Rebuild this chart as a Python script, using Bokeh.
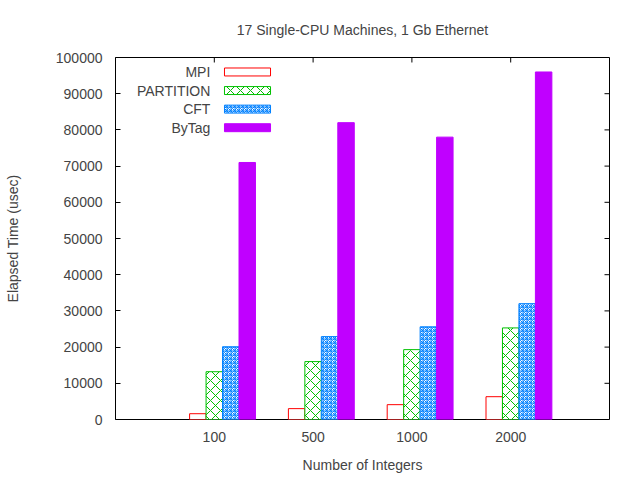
from bokeh.plotting import figure
from bokeh.models import FixedTicker, Label, BoxAnnotation, Range1d, NumeralTickFormatter
from bokeh.embed import file_html
from bokeh.resources import INLINE

title_text = "17 Single-CPU Machines, 1 Gb Ethernet"
categories = ["100", "500", "1000", "2000"]
series_names = ["MPI", "PARTITION", "CFT", "ByTag"]
mpi = [1600, 3000, 4100, 6300]
partition = [13200, 16000, 19300, 25300]
cft = [20100, 22900, 25600, 32000]
bytag = [71000, 82000, 78000, 96000]
y_ticks = [0, 10000, 20000, 30000, 40000, 50000, 60000, 70000, 80000, 90000, 100000]

FONT = "Liberation Sans"
styles = [
    dict(fill_color="white", line_color="#ff0000", hatch_pattern=None, hatch_color=None, scale=None),
    dict(fill_color="white", line_color="#00c000", hatch_pattern="diagonal_cross", hatch_color="#00c000", scale=10),
    dict(fill_color="white", line_color="#0080ff", hatch_pattern="criss_cross", hatch_color="#0080ff", scale=4),
    dict(fill_color="#c000ff", line_color="#c000ff", hatch_pattern=None, hatch_color=None, scale=None),
]

X0, X1 = -1, 4
Y0, Y1 = 0, 100000
p = figure(width=640, height=480, output_backend="svg", toolbar_location=None,
           x_range=Range1d(X0, X1), y_range=Range1d(Y0, Y1),
           min_border_left=115, min_border_right=31, min_border_top=57, min_border_bottom=61)
p.title.text = title_text
p.title.align = "center"
p.title.vertical_align = "top"
p.title.text_font = FONT
p.title.text_font_size = "14px"
p.title.text_font_style = "normal"
p.title.offset = 0
p.title.standoff = 36

p.grid.visible = False
p.outline_line_color = "black"
p.outline_line_width = 1
p.background_fill_color = "white"
p.border_fill_color = "white"

width = 1.0 / 6
all_series = [mpi, partition, cft, bytag]
for j, vals in enumerate(all_series):
    xs = [i + (j - 1) * width for i in range(len(categories))]
    st = styles[j]
    kw = dict(x=xs, top=vals, bottom=0, width=width,
              fill_color=st["fill_color"], line_color=st["line_color"], line_width=1)
    if st["hatch_pattern"]:
        kw.update(hatch_pattern=st["hatch_pattern"], hatch_color=st["hatch_color"],
                  hatch_scale=st["scale"], hatch_weight=1)
    p.vbar(**kw)

# axes
xa = p.xaxis[0]
xa.ticker = FixedTicker(ticks=list(range(len(categories))))
xa.major_label_overrides = {i: c for i, c in enumerate(categories)}
xa.major_tick_in = 0
xa.major_tick_out = 0
xa.minor_tick_line_color = None
xa.axis_line_color = None
xa.axis_label = "Number of Integers"
xa.axis_label_text_font = FONT
xa.axis_label_text_font_size = "14px"
xa.axis_label_text_font_style = "normal"
xa.major_label_text_font = FONT
xa.major_label_text_font_size = "14px"
xa.major_label_standoff = 12
xa.axis_label_standoff = 12

ya = p.yaxis[0]
ya.ticker = FixedTicker(ticks=y_ticks)
ya.formatter = NumeralTickFormatter(format="0")
ya.major_tick_in = 5
ya.major_tick_out = 0
ya.minor_tick_line_color = None
ya.axis_line_color = None
ya.axis_label = "Elapsed Time (usec)"
ya.axis_label_text_font = FONT
ya.axis_label_text_font_size = "14px"
ya.axis_label_text_font_style = "normal"
ya.major_label_text_font = FONT
ya.major_label_text_font_size = "14px"
ya.major_label_standoff = 13
ya.axis_label_standoff = 32

# mirrored inward ticks on right and top borders
tick_dx = (X1 - X0) * 5 / 494.0
tick_dy = (Y1 - Y0) * 5 / 363.0
p.segment(x0=[X1] * len(y_ticks), x1=[X1 - tick_dx] * len(y_ticks), y0=y_ticks, y1=y_ticks,
          line_color="black", line_width=1)
cat_idx = list(range(len(categories)))
p.segment(x0=cat_idx, x1=cat_idx, y0=[Y1] * len(cat_idx), y1=[Y1 - tick_dy] * len(cat_idx),
          line_color="black", line_width=1)

# legend (gnuplot style: text then sample)
leg_top = 96000
leg_step = 5130
half_h = 1100
for j, name in enumerate(series_names):
    yc = leg_top - j * leg_step
    p.add_layout(Label(x=-0.04, y=yc, text=name, text_align="right", text_baseline="middle",
                       text_font=FONT, text_font_size="14px"))
    st = styles[j]
    box_kw = dict(left=0.103, right=0.569, bottom=yc - half_h, top=yc + half_h,
                  fill_color=st["fill_color"], fill_alpha=1.0,
                  line_color=st["line_color"], line_width=1, line_alpha=1.0)
    if st["hatch_pattern"]:
        box_kw.update(hatch_pattern=st["hatch_pattern"], hatch_color=st["hatch_color"],
                      hatch_scale=st["scale"], hatch_weight=1)
    p.add_layout(BoxAnnotation(**box_kw))

open("out.html", "w").write(file_html(p, INLINE))
